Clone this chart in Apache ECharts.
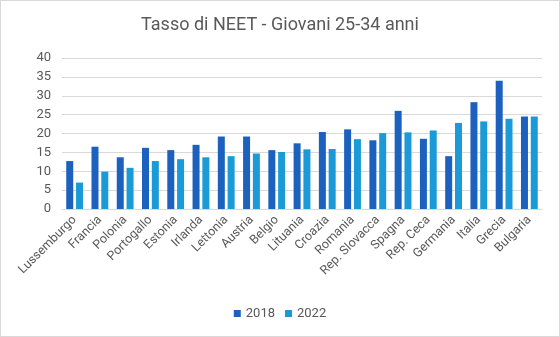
<!DOCTYPE html>
<html><head><meta charset="utf-8">
<script src="https://cdn.jsdelivr.net/npm/echarts@6/dist/echarts.min.js"></script>
<style>
html,body{margin:0;padding:0;background:#fff;}
#c{width:558px;height:335px;border:1px solid #d9d9d9;}
</style></head>
<body><div id="c"></div>
<script>
const categories = ["Lussemburgo","Francia","Polonia","Portogallo","Estonia","Irlanda","Lettonia","Austria","Belgio","Lituania","Croazia","Romania","Rep. Slovacca","Spagna","Rep. Ceca","Germania","Italia","Grecia","Bulgaria"];
const values2018 = [12.7,16.5,13.7,16.2,15.6,17.0,19.2,19.2,15.6,17.4,20.4,21.1,18.2,26.0,18.6,14.0,28.3,34.0,24.5];
const values2022 = [7.0,9.9,10.9,12.7,13.2,13.7,14.0,14.7,15.1,15.8,15.9,18.5,20.1,20.3,20.8,22.8,23.2,23.9,24.5];
const yTicks = [0,5,10,15,20,25,30,35,40];

const chart = echarts.init(document.getElementById('c'));
chart.setOption({
  animation:false,
  title:{text:'Tasso di NEET - Giovani 25-34 anni',left:'center',top:10,
    textStyle:{fontFamily:'Roboto',fontSize:18,fontWeight:'normal',color:'#595959'}},
  legend:{bottom:11,left:'center',itemWidth:7,itemHeight:7,itemGap:10,icon:'rect',
    textStyle:{fontFamily:'Roboto',fontSize:13,color:'#595959'},data:['2018','2022']},
  grid:{left:61,right:17,top:57,bottom:127,containLabel:false},
  xAxis:{type:'category',data:categories,
    axisLine:{lineStyle:{color:'#d9d9d9'}},axisTick:{show:false},
    axisLabel:{rotate:45,interval:0,fontFamily:'Roboto',fontSize:12.5,color:'#595959',margin:9}},
  yAxis:{type:'value',min:yTicks[0],max:yTicks[yTicks.length-1],interval:5,
    axisLine:{show:false},axisTick:{show:false},
    splitLine:{lineStyle:{color:'#d9d9d9'}},
    axisLabel:{fontFamily:'Roboto',fontSize:13,color:'#595959',margin:11}},
  series:[
    {name:'2018',type:'bar',data:values2018,barWidth:7,barGap:'40%',itemStyle:{color:'#1c61be'}},
    {name:'2022',type:'bar',data:values2022,barWidth:7,itemStyle:{color:'#1a9ad6'}}
  ]
});
</script></body></html>
